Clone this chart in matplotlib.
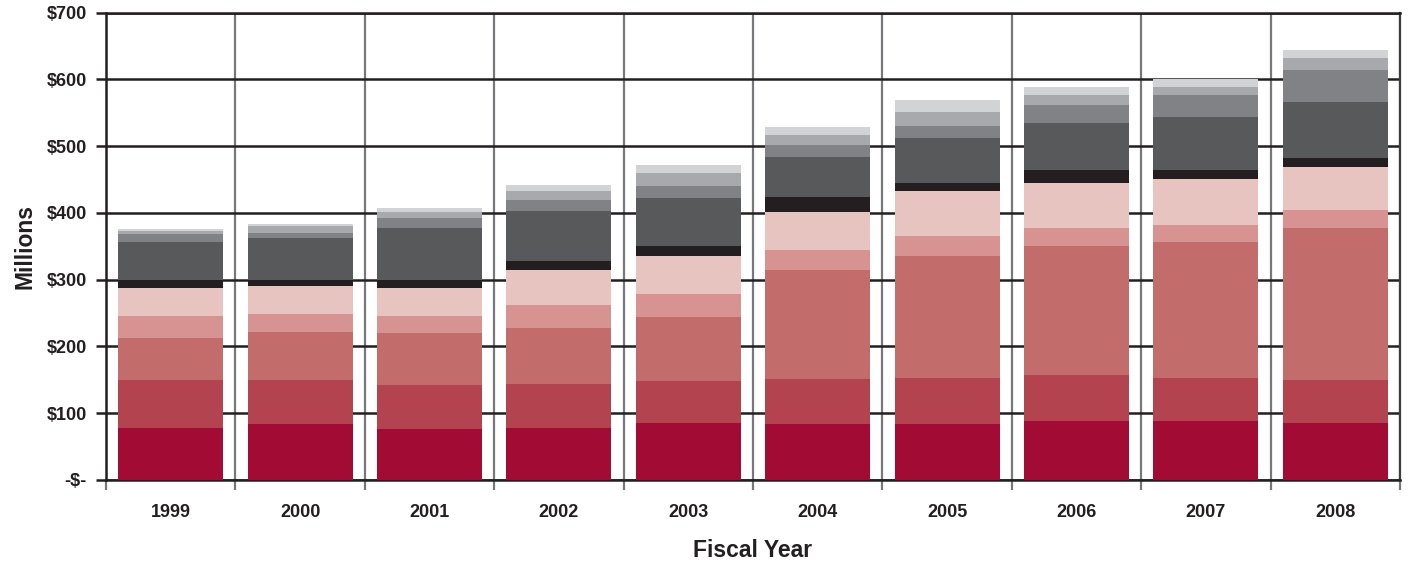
import matplotlib
matplotlib.use('Agg')
import matplotlib.pyplot as plt
import numpy as np

# fiscal years on the x axis
years = ['1999', '2000', '2001', '2002', '2003', '2004', '2005', '2006', '2007', '2008']

# stacked segments, bottom to top (millions of dollars)
seg1 = [78, 84, 76, 78, 85, 84, 84, 88, 89, 86]
seg2 = [72, 66, 66, 66, 63, 67, 69, 69, 63, 63]
seg3 = [63, 72, 78, 84, 96, 163, 183, 194, 205, 228]
seg4 = [33, 27, 25, 34, 34, 30, 30, 27, 25, 28]
seg5 = [42, 41, 42, 52, 57, 57, 67, 67, 69, 63]
seg6 = [12, 10, 13, 14, 15, 22, 12, 19, 13, 14]
seg7 = [57, 63, 77, 75, 72, 60, 67, 70, 79, 84]
seg8 = [12, 7, 15, 16, 18, 18, 18, 27, 33, 48]
seg9 = [4, 10, 10, 14, 19, 16, 21, 16, 12, 18]
seg10 = [3, 3, 6, 9, 12, 12, 18, 12, 12, 12]

yticks = [0, 100, 200, 300, 400, 500, 600, 700]
ytick_labels = ['-$-', '$100', '$200', '$300', '$400', '$500', '$600', '$700']

segments = [seg1, seg2, seg3, seg4, seg5, seg6, seg7, seg8, seg9, seg10]
colours = ['#a20b34', '#b2434f', '#c26c6b', '#d69391', '#e8c4c1',
           '#231f20', '#58595b', '#808285', '#a7a9ac', '#d1d3d4']

plt.rcParams['font.family'] = ['Liberation Sans', 'DejaVu Sans']
txt = '#231f20'

fig = plt.figure(figsize=(14.09, 5.65), dpi=100)
ax = fig.add_axes([106/1409, 85/565, 1294/1409, 467.5/565])

x = np.arange(len(years))
bottom = np.zeros(len(years))
for vals, col in zip(segments, colours):
    ax.bar(x, vals, width=0.81, bottom=bottom, color=col, linewidth=0, zorder=3)
    bottom = bottom + np.array(vals)

ax.set_xlim(-0.5, len(years) - 0.5)
ax.set_ylim(0, 700)

# y axis: horizontal grid lines in black, ticks outward
ax.set_yticks(yticks)
ax.set_yticklabels(ytick_labels, fontsize=13, fontweight='bold', color=txt)
ax.tick_params(axis='y', direction='out', length=7, width=1.8, color=txt, pad=7)
ax.yaxis.grid(True, color=txt, linewidth=1.8, zorder=0)

# x axis: labels at centres, gray separators at the boundaries
ax.set_xticks(x)
ax.set_xticklabels(years, fontsize=13, fontweight='bold', color=txt)
ax.tick_params(axis='x', which='major', length=0, pad=17)
ax.set_xticks(np.arange(-0.5, len(years)), minor=True)
ax.tick_params(axis='x', which='minor', direction='out', length=7, width=1.6, color='#77787b')
ax.xaxis.grid(True, which='minor', color='#77787b', linewidth=1.6, zorder=0)
ax.xaxis.get_minor_ticks()[0].tick1line.set_color(txt)
ax.set_axisbelow(True)

for side in ['left', 'bottom', 'top']:
    ax.spines[side].set_color(txt)
    ax.spines[side].set_linewidth(1.8)
ax.spines['right'].set_color('#3d3d40')
ax.spines['right'].set_linewidth(1.6)

ax.set_ylabel('Millions', fontsize=16.5, fontweight='bold', color=txt, labelpad=7)
ax.set_xlabel('Fiscal Year', fontsize=16.5, fontweight='bold', color=txt, labelpad=13)

fig.savefig('out.png', dpi=100)
